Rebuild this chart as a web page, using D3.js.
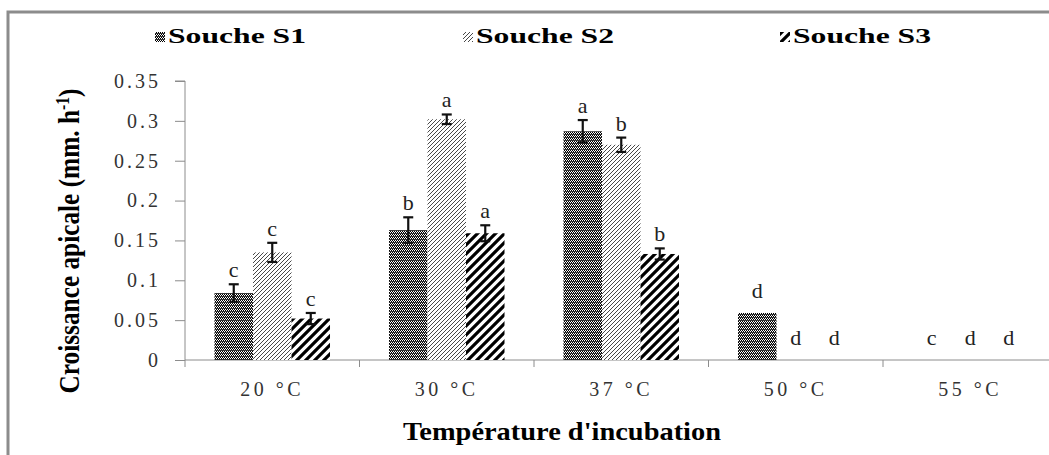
<!DOCTYPE html>
<html>
<head>
<meta charset="utf-8">
<script src="https://cdn.jsdelivr.net/npm/d3@7"></script>
<style>
  body { margin: 0; background: #fff; }
  svg { display: block; }
  text { font-family: "Liberation Serif", "Times New Roman", serif; }
</style>
</head>
<body>
<div id="chart"></div>
<script>
const categories = ["20 °C", "30 °C", "37 °C", "50 °C", "55 °C"];
const seriesNames = ["Souche S1", "Souche S2", "Souche S3"];
const s1 = [0.084, 0.163, 0.287, 0.059, 0];
const s2 = [0.135, 0.302, 0.270, 0, 0];
const s3 = [0.052, 0.159, 0.133, 0, 0];
const s1Err = [0.011, 0.016, 0.014, 0, 0];
const s2Err = [0.012, 0.006, 0.009, 0, 0];
const s3Err = [0.007, 0.010, 0.007, 0, 0];
const s1Letters = ["c", "b", "a", "d", "c"];
const s2Letters = ["c", "a", "b", "d", "d"];
const s3Letters = ["c", "a", "b", "d", "d"];
const yTicks = [0, 0.05, 0.1, 0.15, 0.2, 0.25, 0.3, 0.35];

const width = 1049, height = 455;
const margin = { top: 81, left: 185, bottom: 95 };
const plotBottom = height - margin.bottom; // 360
const serif = "'Liberation Serif', 'Times New Roman', serif";

const values = [s1, s2, s3];
const errs = [s1Err, s2Err, s3Err];
const letters = [s1Letters, s2Letters, s3Letters];

const rows = [];
categories.forEach((c, i) => {
  seriesNames.forEach((s, j) => {
    rows.push({ cat: c, series: s, idx: j, value: values[j][i], err: errs[j][i], letter: letters[j][i] });
  });
});

const svg = d3.select("#chart").append("svg")
  .attr("width", width).attr("height", height);

// patterns
const defs = svg.append("defs");
const p1 = defs.append("pattern").attr("id", "pat1").attr("patternUnits", "userSpaceOnUse")
  .attr("width", 2).attr("height", 3);
p1.append("rect").attr("width", 2).attr("height", 3).attr("fill", "#fff");
p1.append("rect").attr("x", 0).attr("y", 0).attr("width", 1).attr("height", 1).attr("fill", "#000");
p1.append("rect").attr("x", 1).attr("y", 1).attr("width", 1).attr("height", 1).attr("fill", "#000");
p1.append("rect").attr("x", 0).attr("y", 2).attr("width", 2).attr("height", 1).attr("fill", "#333");

const p2 = defs.append("pattern").attr("id", "pat2").attr("patternUnits", "userSpaceOnUse")
  .attr("width", 4).attr("height", 4);
p2.append("rect").attr("width", 4).attr("height", 4).attr("fill", "#fff");
p2.append("path").attr("d", "M-1,5 L5,-1 M-1,1 L1,-1 M3,5 L5,3")
  .attr("stroke", "#333").attr("stroke-width", 0.9);

const p3 = defs.append("pattern").attr("id", "pat3").attr("patternUnits", "userSpaceOnUse")
  .attr("width", 9).attr("height", 9);
p3.append("rect").attr("width", 9).attr("height", 9).attr("fill", "#fff");
p3.append("path").attr("d", "M-2,11 L11,-2 M-2,2 L2,-2 M7,11 L11,7")
  .attr("stroke", "#000").attr("stroke-width", 3.2);

const fills = ["url(#pat1)", "url(#pat2)", "url(#pat3)"];

// outer frame
svg.append("rect")
  .attr("x", 8).attr("y", 12).attr("width", 1200).attr("height", 600)
  .attr("fill", "none").attr("stroke", "#8c8c8c").attr("stroke-width", 3);

const x = d3.scaleBand().domain(categories)
  .range([margin.left, margin.left + 5 * 174.5]).padding(0);
const xs = d3.scaleBand().domain(seriesNames)
  .range([0, x.bandwidth()]).paddingInner(0).paddingOuter(0.766);
const y = d3.scaleLinear().domain([0, 0.35]).range([plotBottom, margin.top]);

// y axis
const yAxis = svg.append("g")
  .attr("transform", `translate(${margin.left},0)`)
  .call(d3.axisLeft(y).tickValues(yTicks).tickSize(10).tickPadding(14)
    .tickFormat(d => String(+d.toFixed(2))));
yAxis.attr("font-family", null);
yAxis.select(".domain").attr("stroke", "#8c8c8c").attr("d", `M-10,${y(0.35)}H0V${plotBottom}`);
yAxis.selectAll(".tick line").attr("stroke", "#8c8c8c");
yAxis.selectAll(".tick text")
  .style("font-family", serif)
  .style("font-size", "20px").attr("fill", "#333").attr("letter-spacing", 3);

// x axis
const xAxis = svg.append("g")
  .attr("transform", `translate(0,${plotBottom})`)
  .call(d3.axisBottom(x).tickSize(0).tickPadding(22));
xAxis.attr("font-family", null);
xAxis.select(".domain").attr("stroke", "#8c8c8c").attr("d", `M${margin.left},0H${width}`);
xAxis.selectAll(".tick text")
  .style("font-family", serif)
  .style("font-size", "20px").attr("fill", "#333").attr("letter-spacing", 3.5);
svg.append("g").selectAll("line")
  .data(categories)
  .join("line")
  .attr("x1", d => x(d)).attr("x2", d => x(d))
  .attr("y1", plotBottom).attr("y2", plotBottom + 7)
  .attr("stroke", "#8c8c8c");

// bars
const bars = svg.append("g");
bars.selectAll("rect")
  .data(rows.filter(d => d.value > 0))
  .join("rect")
  .attr("x", d => x(d.cat) + xs(d.series))
  .attr("y", d => y(d.value))
  .attr("width", xs.bandwidth())
  .attr("height", d => plotBottom - y(d.value))
  .attr("fill", d => fills[d.idx]);

// error bars
const eb = svg.append("g").attr("stroke", "#111").attr("stroke-width", 2.2);
rows.filter(d => d.err > 0).forEach(d => {
  const cx = x(d.cat) + xs(d.series) + xs.bandwidth() / 2;
  eb.append("line").attr("x1", cx).attr("x2", cx)
    .attr("y1", y(d.value + d.err)).attr("y2", y(d.value - d.err));
  eb.append("line").attr("x1", cx - 5).attr("x2", cx + 5)
    .attr("y1", y(d.value + d.err)).attr("y2", y(d.value + d.err));
  eb.append("line").attr("x1", cx - 5).attr("x2", cx + 5)
    .attr("y1", y(d.value - d.err)).attr("y2", y(d.value - d.err));
});

// significance letters
svg.append("g").selectAll("text")
  .data(rows)
  .join("text")
  .attr("x", d => x(d.cat) + xs(d.series) + xs.bandwidth() / 2)
  .attr("y", d => d.err > 0 ? y(d.value + d.err) - 7 : y(d.value) - 15)
  .attr("text-anchor", "middle")
  .style("font-family", serif)
  .style("font-size", "22px").attr("fill", "#222")
  .text(d => d.letter);

// legend
const legendX = [155, 463, 780];
const leg = svg.append("g").selectAll("g")
  .data(seriesNames)
  .join("g")
  .attr("transform", (d, i) => `translate(${legendX[i]},43)`);
leg.append("rect").attr("x", 0).attr("y", -11).attr("width", 10).attr("height", 10)
  .attr("fill", (d, i) => fills[i]);
leg.append("text")
  .attr("x", 13).attr("y", 0)
  .style("font-family", serif)
  .style("font-weight", "bold").style("font-size", "22px")
  .attr("textLength", 138).attr("lengthAdjust", "spacingAndGlyphs")
  .text(d => d);

// axis titles
svg.append("text")
  .attr("x", 562).attr("y", 440)
  .attr("text-anchor", "middle")
  .style("font-family", serif)
  .style("font-weight", "bold").style("font-size", "25px")
  .attr("textLength", 318).attr("lengthAdjust", "spacingAndGlyphs")
  .text("Température d'incubation");

const yTitle = svg.append("text")
  .attr("transform", "translate(79,241) rotate(-90)")
  .attr("text-anchor", "middle")
  .style("font-family", serif)
  .style("font-weight", "bold").style("font-size", "29px")
  .attr("textLength", 305).attr("lengthAdjust", "spacingAndGlyphs");
yTitle.append("tspan").text("Croissance apicale (mm. h");
yTitle.append("tspan").attr("dy", -10).style("font-size", "18px").text("-1");
yTitle.append("tspan").attr("dy", 10).text(")");
</script>
</body>
</html>
